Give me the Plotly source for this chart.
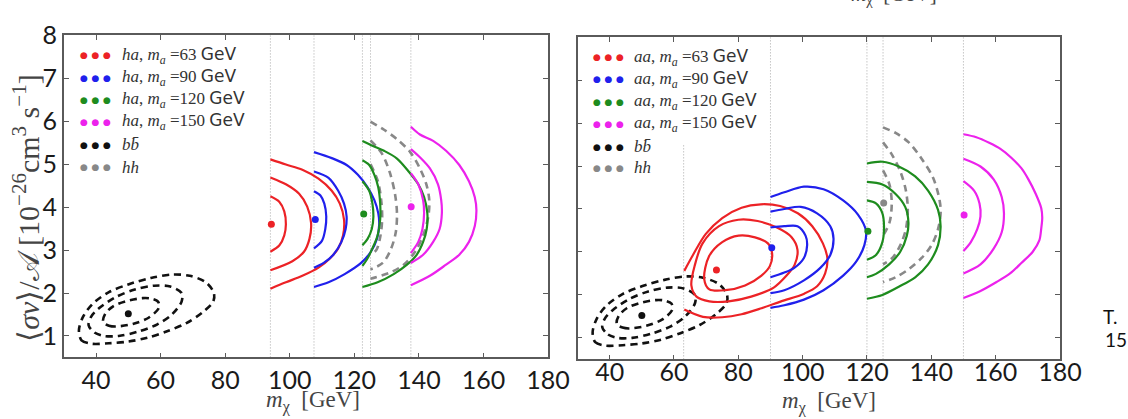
import plotly.graph_objects as go

W, H = 1128, 419

X_RANGE = [30, 180]
Y_RANGE = [0.5, 8]
X_TICKS = [40, 60, 80, 100, 120, 140, 160, 180]
Y_TICKS = [1, 2, 3, 4, 5, 6, 7, 8]

# kinematic thresholds (vertical dotted lines)
LEFT_THRESH = [94, 107.5, 122.5, 125, 137.5]
RIGHT_THRESH = [90, 120, 125, 150]
RIGHT_LOW_THRESH = 63
RIGHT_LOW_THRESH_TOP = 5.5

# best-fit points
BB_BEST = (50.0, 1.52)
HA_BEST_X = [94.3, 107.9, 122.9, 137.6]
HA_BEST_Y = [3.60, 3.71, 3.84, 4.01]
AA_BEST_X = [73.2, 90.4, 120.3, 150.2]
AA_BEST_Y = [2.58, 3.10, 3.48, 3.86]
HH_BEST_RIGHT = (125.2, 4.14)

# b bbar confidence contours (outer, middle, inner)
BB_X = [
    [34.7, 35.5, 38.5, 44, 50, 56, 62, 68, 73, 76.3, 76.5, 74, 69, 63.5, 57, 50, 44, 39, 36, 34.7],
    [37.7, 39.5, 42.5, 47, 53, 59, 63.5, 66.5, 66.5, 63, 58, 52, 46, 41, 38.5, 37.7],
    [42.2, 44, 46, 51.4, 56.4, 59.5, 59.2, 57, 54.4, 49.3, 45.3, 42.8, 42.2],
]
BB_Y = [
    [1.13, 0.9, 0.82, 0.83, 0.87, 0.96, 1.11, 1.3, 1.55, 1.8, 2.0, 2.25, 2.4, 2.43, 2.35, 2.2, 2.02, 1.75, 1.45, 1.13],
    [1.25, 1.08, 1.0, 1.0, 1.1, 1.27, 1.5, 1.8, 2.0, 2.15, 2.17, 2.08, 1.9, 1.65, 1.45, 1.25],
    [1.32, 1.24, 1.22, 1.28, 1.43, 1.66, 1.8, 1.87, 1.88, 1.81, 1.69, 1.51, 1.32],
]

# h a channel contours, m_a = 63, 90, 120, 150 GeV
HA63_X = [
    [94, 98.8, 103.9, 108.9, 113.0, 115.5, 116.8, 116.5, 115.0, 112.5, 108.9, 103.9, 98.8, 94],
    [94, 98.8, 102.9, 105.4, 106.6, 106.1, 104.4, 100.8, 94],
    [94, 96.8, 98.3, 98.8, 98.3, 96.8, 94],
]
HA63_Y = [
    [5.11, 4.99, 4.87, 4.66, 4.38, 4.08, 3.71, 3.34, 3.04, 2.81, 2.59, 2.40, 2.25, 2.10],
    [4.69, 4.53, 4.31, 4.01, 3.63, 3.26, 2.96, 2.74, 2.53],
    [4.25, 4.12, 3.90, 3.60, 3.34, 3.11, 2.96],
]
HA90_X = [
    [107.5, 113.0, 117.6, 121.1, 124.1, 126.2, 127.4, 127.7, 127.0, 125.1, 122.1, 117.0, 112.0, 107.5],
    [107.5, 112.0, 115.0, 116.8, 117.6, 117.3, 116.0, 113.5, 110.5, 107.5],
    [107.5, 109.5, 110.7, 111.3, 111.0, 110.0, 107.5],
]
HA90_Y = [
    [5.28, 5.14, 4.98, 4.75, 4.46, 4.16, 3.86, 3.60, 3.26, 2.96, 2.70, 2.44, 2.25, 2.14],
    [4.83, 4.68, 4.38, 4.08, 3.78, 3.49, 3.19, 2.89, 2.70, 2.59],
    [4.37, 4.27, 4.08, 3.78, 3.49, 3.22, 3.04],
]
HA120_X = [
    [122.5, 125.6, 129.2, 133.2, 136.8, 139.8, 141.6, 142.6, 142.4, 141.3, 139.3, 136.3, 132.2, 127.2, 122.5],
    [122.5, 124.6, 126.2, 127.4, 128.0, 128.0, 127.2, 125.6, 124.1, 122.5],
    [122.5, 124.6, 125.6, 125.9, 125.4, 124.1, 122.5],
]
HA120_Y = [
    [5.54, 5.43, 5.31, 5.13, 4.83, 4.53, 4.23, 3.86, 3.49, 3.19, 2.89, 2.66, 2.44, 2.25, 2.14],
    [5.09, 4.98, 4.75, 4.46, 4.08, 3.71, 3.34, 3.04, 2.81, 2.63],
    [4.60, 4.38, 4.08, 3.78, 3.49, 3.26, 3.11],
]
HA150_X = [
    [137.5, 140.3, 144.4, 148.4, 152.5, 155.5, 157.3, 157.8, 157.3, 155.5, 152.5, 148.4, 143.4, 137.5],
    [137.5, 140.3, 143.4, 145.9, 146.9, 147.1, 146.4, 144.4, 141.3, 137.5],
    [137.5, 139.8, 141.3, 141.6, 141.1, 139.8, 137.5],
]
HA150_Y = [
    [5.87, 5.69, 5.54, 5.31, 4.98, 4.60, 4.23, 3.93, 3.56, 3.19, 2.89, 2.66, 2.40, 2.18],
    [5.35, 5.16, 4.90, 4.53, 4.16, 3.86, 3.49, 3.19, 2.89, 2.70],
    [4.79, 4.53, 4.16, 3.86, 3.49, 3.19, 2.93],
]
HH_LEFT_X = [
    [125, 129.2, 133.2, 137.3, 140.3, 142.3, 143.2, 142.9, 141.3, 138.8, 135.3, 131.2, 125],
    [125, 128.5, 131.0, 132.6, 133.2, 132.8, 131.2, 128.8, 125],
    [125, 127.3, 128.4, 128.6, 128.0, 126.8, 125],
]
HH_LEFT_Y = [
    [5.99, 5.80, 5.58, 5.28, 4.90, 4.53, 4.16, 3.78, 3.34, 2.96, 2.66, 2.48, 2.33],
    [5.55, 5.25, 4.80, 4.30, 3.85, 3.40, 3.00, 2.70, 2.55],
    [5.00, 4.60, 4.10, 3.70, 3.30, 3.00, 2.90],
]

# a a channel contours, m_a = 63, 90, 120, 150 GeV
AA63_X = [
    [63.2, 65.9, 69.9, 75, 81, 87, 93, 98.5, 103, 106.3, 107.7, 107, 104.5, 100.5, 93.3, 87.2, 81, 75, 69, 63.2],
    [65.4, 66.5, 68.9, 74, 80, 86, 92, 96.5, 98.4, 97.5, 95, 91, 84, 77, 71, 67, 65.4],
    [69.4, 70.9, 75, 80.1, 85.2, 89.2, 90.5, 89.8, 87.2, 82.1, 76, 71, 69.4],
]
AA63_Y = [
    [2.56, 2.93, 3.42, 3.79, 4.03, 4.11, 4.07, 3.9, 3.6, 3.2, 2.85, 2.5, 2.2, 2.03, 1.85, 1.69, 1.55, 1.48, 1.49, 1.66],
    [2.22, 2.7, 3.2, 3.6, 3.75, 3.72, 3.57, 3.35, 3.05, 2.7, 2.45, 2.17, 1.96, 1.85, 1.85, 1.96, 2.22],
    [2.37, 2.9, 3.23, 3.38, 3.34, 3.2, 2.97, 2.67, 2.45, 2.22, 2.11, 2.13, 2.37],
]
AA90_X = [
    [90, 94.3, 100.4, 106.5, 112.6, 117.2, 119.7, 119.2, 116.7, 112.6, 106.5, 100.4, 94.3, 90],
    [90, 94.3, 99.4, 104.5, 108.6, 109.6, 108.6, 105.5, 100.4, 94.3, 90],
    [90, 94.3, 98.4, 100.9, 101.4, 100.4, 97.4, 94.3, 90],
]
AA90_Y = [
    [4.28, 4.39, 4.52, 4.46, 4.2, 3.87, 3.49, 3.16, 2.78, 2.45, 2.11, 1.89, 1.76, 1.7],
    [3.94, 4.0, 4.05, 3.9, 3.6, 3.31, 2.93, 2.63, 2.34, 2.11, 2.04],
    [3.57, 3.6, 3.6, 3.38, 3.16, 2.86, 2.63, 2.52, 2.41],
]
AA120_X = [
    [120, 124.8, 129.9, 135, 139, 142.1, 142.9, 142.1, 139, 135, 129.9, 124.8, 120],
    [120, 124.8, 128.9, 131.9, 132.9, 132.4, 130.4, 126.9, 122.8, 120],
    [120, 122.8, 124.8, 125.3, 124.8, 122.8, 120],
]
AA120_Y = [
    [5.06, 5.1, 4.99, 4.76, 4.43, 3.98, 3.6, 3.16, 2.71, 2.41, 2.19, 2.0, 1.91],
    [4.63, 4.57, 4.35, 4.05, 3.68, 3.38, 3.01, 2.71, 2.49, 2.41],
    [4.2, 4.13, 3.9, 3.6, 3.23, 2.93, 2.82],
]
AA150_X = [
    [150, 154, 158, 161.5, 164.8, 168, 170.2, 172.5, 174.2, 174.5, 174.2, 173.6, 171.5, 168.1, 164.5, 160.3, 155, 150],
    [150, 155.3, 159.4, 161.9, 162.6, 161.9, 159.4, 155.3, 150],
    [150, 153.3, 155, 155.3, 154.3, 152.3, 150],
]
AA150_Y = [
    [5.74, 5.67, 5.54, 5.4, 5.2, 4.95, 4.69, 4.35, 4.02, 3.8, 3.55, 3.27, 3.0, 2.75, 2.5, 2.3, 2.08, 1.93],
    [5.17, 4.99, 4.69, 4.28, 3.9, 3.46, 3.08, 2.71, 2.5],
    [4.65, 4.43, 4.13, 3.83, 3.53, 3.23, 3.02],
]
HH_RIGHT_X = [
    [125, 128.9, 133, 137, 140.6, 142.6, 142.9, 142.1, 140.1, 137, 133, 128.9, 125],
    [125, 127.9, 130.4, 132.1, 132.7, 132.1, 130.4, 127.9, 125],
    [125, 127, 127.7, 127, 125],
]
HH_RIGHT_Y = [
    [5.9, 5.77, 5.55, 5.17, 4.72, 4.2, 3.9, 3.53, 3.16, 2.86, 2.6, 2.41, 2.3],
    [5.55, 5.25, 4.87, 4.43, 3.98, 3.53, 3.16, 2.86, 2.71],
    [4.9, 4.57, 4.13, 3.68, 3.38],
]

MA_LABELS = ["63", "90", "120", "150"]

RED, BLUE, GREEN, MAGENTA = "#ec2226", "#2020ec", "#1e8c1e", "#ec22ec"
BLACK, GREY = "#111111", "#888888"
MA_COLORS = [RED, BLUE, GREEN, MAGENTA]

SERIF = "Liberation Serif"
SANS = "DejaVu Sans"
TICK_FONT = "Lato"

fig = go.Figure()


def add_contours(xs, ys, color, ax, dashed=False):
    for cx, cy in zip(xs, ys):
        fig.add_trace(go.Scatter(
            x=cx, y=cy, mode="lines", xaxis="x" + ax, yaxis="y" + ax,
            line=dict(color=color, width=2.6 if dashed else 2.2,
                      dash="7px,5px" if dashed else "solid",
                      shape="spline", smoothing=0.9),
            hoverinfo="skip", showlegend=False))


def add_vline(x, ax, top=Y_RANGE[1]):
    fig.add_trace(go.Scatter(
        x=[x, x], y=[Y_RANGE[0], top], mode="lines",
        xaxis="x" + ax, yaxis="y" + ax,
        line=dict(color="#a8a8a8", width=1, dash="1px,2px"),
        hoverinfo="skip", showlegend=False))


def add_point(x, y, color, ax):
    fig.add_trace(go.Scatter(
        x=[x], y=[y], mode="markers", xaxis="x" + ax, yaxis="y" + ax,
        marker=dict(color=color, size=7, line=dict(width=0)),
        hoverinfo="skip", showlegend=False))


# ---- left panel: h a final states ----
for t in LEFT_THRESH:
    add_vline(t, "")
add_contours(BB_X, BB_Y, BLACK, "", dashed=True)
add_contours(HH_LEFT_X, HH_LEFT_Y, GREY, "", dashed=True)
for xs, ys, c in zip([HA63_X, HA90_X, HA120_X, HA150_X],
                     [HA63_Y, HA90_Y, HA120_Y, HA150_Y], MA_COLORS):
    add_contours(xs, ys, c, "")
add_point(*BB_BEST, BLACK, "")
for bx, by, c in zip(HA_BEST_X, HA_BEST_Y, MA_COLORS):
    add_point(bx, by, c, "")

# ---- right panel: a a final states ----
add_vline(RIGHT_LOW_THRESH, "2", top=RIGHT_LOW_THRESH_TOP)
for t in RIGHT_THRESH:
    add_vline(t, "2")
add_contours(BB_X, BB_Y, BLACK, "2", dashed=True)
add_contours(HH_RIGHT_X, HH_RIGHT_Y, GREY, "2", dashed=True)
for xs, ys, c in zip([AA63_X, AA90_X, AA120_X, AA150_X],
                     [AA63_Y, AA90_Y, AA120_Y, AA150_Y], MA_COLORS):
    add_contours(xs, ys, c, "2")
add_point(*BB_BEST, BLACK, "2")
add_point(*HH_BEST_RIGHT, GREY, "2")
for bx, by, c in zip(AA_BEST_X, AA_BEST_Y, MA_COLORS):
    add_point(bx, by, c, "2")


def px_x(p):
    return p / W


def px_y(p):
    return 1 - p / H


axis_common = dict(
    range=X_RANGE, showgrid=False, zeroline=False, showline=True, mirror="allticks",
    linecolor="#5a5a5a", linewidth=1.6, ticks="inside", ticklen=5, tickwidth=1.2,
    tickcolor="#5a5a5a", tickfont=dict(family=TICK_FONT, size=25, color="#1a1a1a"),
)
yaxis_common = dict(axis_common, range=Y_RANGE, tickvals=Y_TICKS)

fig.update_layout(
    width=W, height=H, margin=dict(l=0, r=0, t=0, b=0),
    paper_bgcolor="white", plot_bgcolor="white", showlegend=False,
    xaxis=dict(axis_common, tickvals=X_TICKS, domain=[px_x(65), px_x(559)], anchor="y"),
    yaxis=dict(yaxis_common, domain=[px_y(355), px_y(20)], anchor="x"),
    xaxis2=dict(axis_common, tickvals=X_TICKS, domain=[px_x(589), px_x(1081)], anchor="y2",
                ticklabelstandoff=-10),
    yaxis2=dict(yaxis_common, domain=[px_y(357), px_y(22)], anchor="x2", showticklabels=False),
)

ann = []


def text_at(x, y, text, font, xanchor="center", angle=0):
    ann.append(dict(x=px_x(x), y=px_y(y), xref="paper", yref="paper",
                    xanchor=xanchor, yanchor="middle", showarrow=False,
                    textangle=angle, text=text, font=font))


# legends drawn as rows of coloured dots followed by the label
BBAR = "<i>b</i><i>b\u0304</i>"
LEFT_LEGEND = [f"<i>ha</i>, <i>m<sub>a</sub></i> ={m}" for m in MA_LABELS] + [BBAR, "<i>hh</i>"]
RIGHT_LEGEND = [f"<i>aa</i>, <i>m<sub>a</sub></i> ={m}" for m in MA_LABELS] + [BBAR, "<i>hh</i>"]
LEGEND_COLORS = MA_COLORS + [BLACK, GREY]
LEGEND_ROWS_LEFT = [41, 64, 87, 110, 134, 157]
LEGEND_ROWS_RIGHT = [43, 66, 89, 112, 136, 158]


def legend(labels, rows, x_dots, x_text):
    for i, (lab, c, row) in enumerate(zip(labels, LEGEND_COLORS, rows)):
        text_at(x_dots, row, "\u25CF\u2009\u2009\u25CF\u2009\u2009\u25CF",
                dict(family=SANS, size=9, color=c), xanchor="left")
        txt = lab + (" <span style='font-family:DejaVu Sans'>GeV</span>" if i < 4 else "")
        text_at(x_text, row, txt, dict(family=SERIF, size=17, color="#333333"), xanchor="left")


legend(LEFT_LEGEND, LEGEND_ROWS_LEFT, 80, 122)
legend(RIGHT_LEGEND, LEGEND_ROWS_RIGHT, 603, 645)

# axis titles
XLABEL = "<i>m</i><sub>\u03c7</sub>  [GeV]"
YLABEL = "\u27e8<i>\u03c3v</i>\u27e9/\U0001D49C [10<sup>\u221226</sup>cm<sup>3</sup> s<sup>\u22121</sup>]"
title_font = dict(family=SERIF, size=23, color="#444444")
text_at(319, 401, XLABEL, title_font)
text_at(845, 402, XLABEL, title_font)
text_at(27, 200, YLABEL, dict(family=SERIF, size=30, color="#444444"), angle=-90)
# label of the panel above, cut by the page edge
text_at(912, -22, XLABEL, dict(family=SERIF, size=21, color="#444444"))
# slide footer text
text_at(1123, 312, "T.", dict(family=TICK_FONT, size=19, color="#111111"), xanchor="left")
text_at(1125, 336, "15", dict(family=TICK_FONT, size=19, color="#111111"), xanchor="left")

fig.update_layout(annotations=ann)
fig.write_html("out.html")
